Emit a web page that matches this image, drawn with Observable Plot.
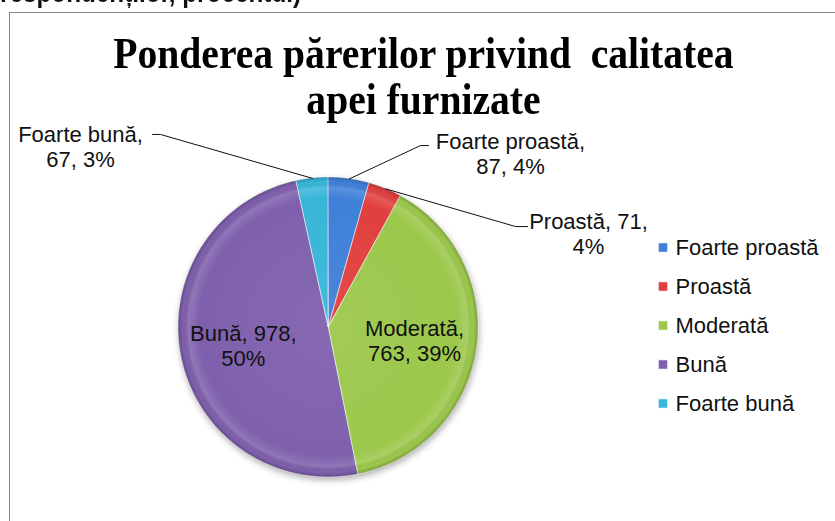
<!DOCTYPE html>
<html>
<head>
<meta charset="utf-8">
<script src="https://cdn.jsdelivr.net/npm/d3@7"></script>
<script src="https://cdn.jsdelivr.net/npm/@observablehq/plot@0.6"></script>
<style>
  html, body { margin: 0; padding: 0; background: #fff; width: 835px; height: 521px; overflow: hidden; }
  #wrap { position: relative; width: 835px; height: 521px; overflow: hidden; }
  #frame { position: absolute; left: 9px; top: 12px; width: 900px; height: 600px; border: 1.6px solid #878787; box-sizing: border-box; }
  #top { position: absolute; left: 0; top: -20px; font: bold 27px "Liberation Sans", Arial, sans-serif; line-height: 27px; color: #111; white-space: nowrap; transform: scaleX(0.9); transform-origin: 0 0; }
  #title { position: absolute; left: 6px; width: 835px; top: 31px; text-align: center; font: bold 44px "Liberation Serif", "Times New Roman", serif; line-height: 46px; color: #000; transform: scaleX(0.9); transform-origin: 50% 0; white-space: nowrap; }
  .abs { position: absolute; top: 0; }
</style>
</head>
<body>
<div id="wrap">
  <div id="frame"></div>
  <div id="top">respondenților, procentul)</div>
  <div id="title">Ponderea părerilor privind&nbsp; calitatea<br>apei furnizate</div>
  <div id="pie" class="abs" style="left:0"></div>
  <div id="legend" class="abs" style="left:650px"></div>
</div>
<script>
// ---- data ----
const categories = ["Foarte proastă", "Proastă", "Moderată", "Bună", "Foarte bună"];
const counts = [87, 71, 763, 978, 67];
const colors = ["#3f80d8", "#e0403e", "#9cc84c", "#7f60ad", "#38b6d8"];

// ---- layout ----
const W = 835, H = 521;
const cx = 328, cy = 327, R = 150;
const FONT = "Liberation Sans, Arial, sans-serif";

const total = d3.sum(counts);
const pct = d3.format(".0%");

// slice angles: start at 12 o'clock, clockwise
let acc = 0;
const slices = categories.map((cat, i) => {
  const a0 = (acc / total) * 2 * Math.PI;
  acc += counts[i];
  const a1 = (acc / total) * 2 * Math.PI;
  return {cat, count: counts[i], a0, a1, mid: (a0 + a1) / 2};
});

// wedge outlines (unit circle, x = sin, y = cos)
const wedgePts = [];
for (const s of slices) {
  const n = Math.max(2, Math.ceil((s.a1 - s.a0) / (Math.PI / 180)));
  for (let k = 0; k <= n; k++) {
    const a = s.a0 + (s.a1 - s.a0) * k / n;
    wedgePts.push({cat: s.cat, x: Math.sin(a), y: Math.cos(a)});
  }
}

// label placement (fractions of radius, relative to center)
const outerLayout = {
  "Foarte proastă": {text: [1.213, 1.16], elbow: [0.613, 1.213], end: [0.667, 1.213], first: 1},
  "Proastă":        {text: [1.733, 0.63], elbow: [1.247, 0.673], end: [1.327, 0.673], first: 2},
  "Foarte bună":    {text: [-1.653, 1.21], elbow: [-1.12, 1.287], end: [-1.173, 1.287], first: 1}
};
const innerLayout = {"Moderată": {r: 0.58, first: 1}, "Bună": {r: 0.58, first: 2}};

const labels = [];
const leaders = [];
for (const s of slices) {
  const parts = [s.cat, String(s.count), pct(s.count / total)];
  const lay = outerLayout[s.cat] || innerLayout[s.cat];
  const text = parts.slice(0, lay.first).join(", ") + ",\n" + parts.slice(lay.first).join(", ");
  if (outerLayout[s.cat]) {
    labels.push({text, x: lay.text[0], y: lay.text[1]});
    leaders.push({cat: s.cat, x: Math.sin(s.mid), y: Math.cos(s.mid)});
    leaders.push({cat: s.cat, x: lay.elbow[0], y: lay.elbow[1]});
    leaders.push({cat: s.cat, x: lay.end[0], y: lay.end[1]});
  } else {
    labels.push({text, x: lay.r * Math.sin(s.mid), y: lay.r * Math.cos(s.mid)});
  }
}

const pie = Plot.plot({
  width: W, height: H,
  marginLeft: cx - R, marginRight: W - (cx + R),
  marginTop: cy - R, marginBottom: H - (cy + R),
  x: {domain: [-1, 1], axis: null},
  y: {domain: [-1, 1], axis: null},
  color: {domain: categories, range: colors},
  style: {background: "transparent", overflow: "visible"},
  marks: [
    Plot.area(wedgePts, {x1: "x", y1: "y", x2: 0, y2: 0, z: "cat", fill: "cat", stroke: "white", strokeWidth: 0.8, strokeOpacity: 0.7}),
    Plot.area(wedgePts, {x1: "x", y1: "y", x2: 0, y2: 0, z: "cat", fill: "url(#sheen)"}),
    Plot.line(leaders, {x: "x", y: "y", z: "cat", stroke: "#111", strokeWidth: 1}),
    Plot.text(labels, {x: "x", y: "y", text: "text", textAnchor: "middle", lineAnchor: "middle", lineHeight: 1.14, fontSize: 22, fontFamily: FONT, fill: "#111"})
  ]
});
pie.insertAdjacentHTML("afterbegin",
  `<defs><radialGradient id="sheen" gradientUnits="userSpaceOnUse" cx="${cx}" cy="${cy}" r="${R}">
     <stop offset="0" stop-color="#fff" stop-opacity="0.06"/>
     <stop offset="0.86" stop-color="#fff" stop-opacity="0"/>
     <stop offset="0.93" stop-color="#fff" stop-opacity="0.14"/>
     <stop offset="0.97" stop-color="#000" stop-opacity="0"/>
     <stop offset="1" stop-color="#000" stop-opacity="0.2"/>
   </radialGradient></defs>`);
const firstArea = pie.querySelector('g[aria-label="area"]');
if (firstArea) firstArea.style.filter = "drop-shadow(1px 3px 3px rgba(0,0,0,0.3))";
document.getElementById("pie").appendChild(pie);

const legend = Plot.plot({
  width: 185, height: H, margin: 0,
  y: {type: "point", domain: categories, range: [245.5, 403.5], padding: 0, axis: null},
  color: {domain: categories, range: colors},
  style: {background: "transparent", overflow: "visible"},
  marks: [
    Plot.dot(categories, {y: d => d, fill: d => d, symbol: "square", r: 5.2, frameAnchor: "left", dx: 12.5, stroke: "#fff", strokeWidth: 0.6}),
    Plot.text(categories, {y: d => d, text: d => d, frameAnchor: "left", dx: 25, textAnchor: "start", fontSize: 22, fontFamily: FONT, fill: "#111"})
  ]
});
document.getElementById("legend").appendChild(legend);
</script>
</body>
</html>
